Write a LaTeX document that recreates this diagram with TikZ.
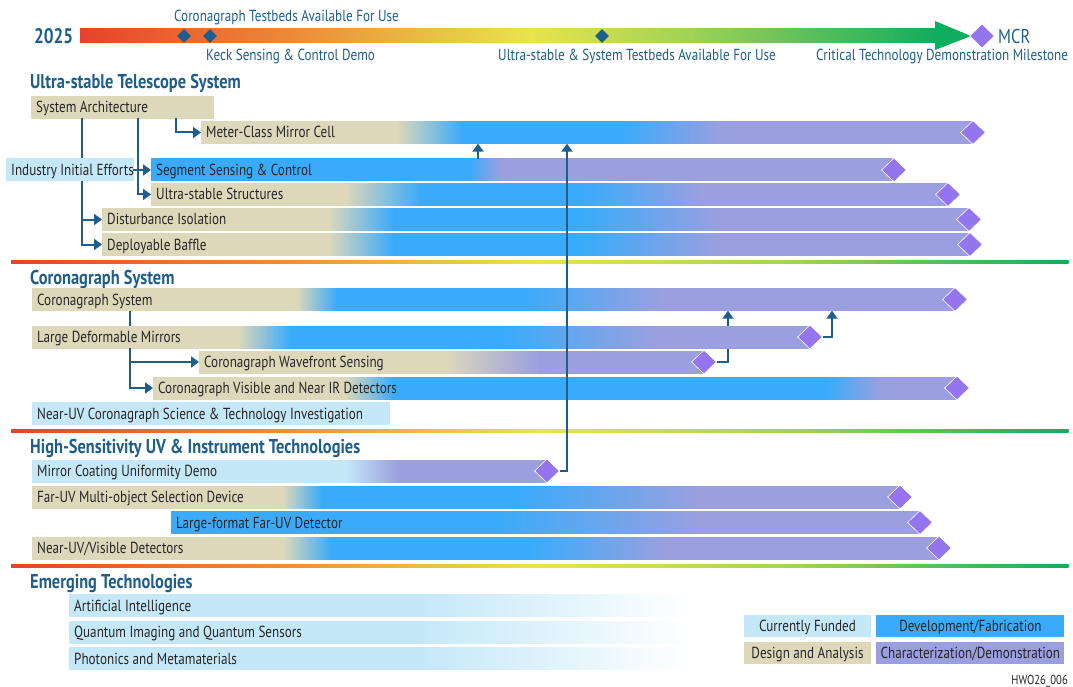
\documentclass[tikz,border=0pt]{standalone}
\usepackage{fontspec}
\setmainfont[FakeStretch=0.82]{PT Sans}
\usepackage{tikz}
\usetikzlibrary{arrows.meta,positioning,calc,shapes.geometric}
\usepackage{xcolor}

\definecolor{tanc}{RGB}{221,216,186}
\definecolor{devc}{RGB}{58,171,250}
\definecolor{chrc}{RGB}{155,159,224}
\definecolor{fundc}{RGB}{197,232,249}
\definecolor{mcrc}{RGB}{148,117,238}
\definecolor{navy}{RGB}{30,94,140}
\definecolor{inkc}{RGB}{38,38,38}
\definecolor{tlred}{RGB}{232,66,42}
\definecolor{tlorange}{RGB}{236,142,56}
\definecolor{tlyellow}{RGB}{232,228,76}
\definecolor{tllime}{RGB}{160,210,86}
\definecolor{tlgreen}{RGB}{18,172,94}

% shaded bar pieces with the label node on top
\newcommand{\techbar}[5]{%
  \foreach \xa/\xb/\ca/\cb in {#4}
    \shade[left color=\ca, right color=\cb] (\xa,#2-11) rectangle ({\xb+0.6},#2+11);
  \node[bartxt, anchor=west] (#1) at (#3,#2) {#5};
}

\begin{document}
\begin{tikzpicture}[x=1pt, y=-1pt,
  bartxt/.style={minimum height=22pt, inner xsep=5pt, inner ysep=0pt, text height=11pt, text depth=0pt, font=\fontsize{16}{16}\selectfont, text=inkc},
  hdr/.style={anchor=west, inner sep=0pt, text height=14pt, text depth=0pt, font=\bfseries\fontsize{20}{20}\selectfont, text=navy},
  mslbl/.style={anchor=west, inner sep=0pt, text height=11pt, text depth=0pt, font=\fontsize{16}{16}\selectfont, text=navy},
  mdiam/.style={diamond, fill=mcrc, draw=white, line width=0.6pt, minimum width=25pt, minimum height=24pt, inner sep=0pt},
  msdot/.style={diamond, fill=navy, minimum width=14pt, minimum height=14pt, inner sep=0pt},
  flow/.style={draw=navy, line width=2pt, -{Triangle[length=8pt,width=11pt]}},
  link/.style={draw=navy, line width=2pt},
  keybox/.style={minimum width=127pt, minimum height=22pt, inner sep=0pt, text height=11pt, text depth=0pt, font=\fontsize{16}{16}\selectfont, text=inkc},
]
\useasboundingbox (0,0) rectangle (1073,687);

% ─── Timeline ───
\foreach \xa/\xb/\ca/\cb in {80/300/tlred/tlorange, 300/530/tlorange/tlyellow, 530/690/tlyellow/tllime, 690/935/tllime/tlgreen} {
  \shade[left color=\ca, right color=\cb] (\xa,29) rectangle ({\xb+0.6},43);
}
\fill[tlgreen] (935,21) -- (971,36) -- (935,50) -- cycle;
\node[anchor=west, inner sep=0pt, text height=15pt, text depth=0pt, font=\bfseries\fontsize{21}{21}\selectfont, text=navy] (yr) at (34,36) {2025};
\node[msdot] (ms1) at (184,36) {};
\node[msdot] (ms2) at (210,36) {};
\node[msdot] (ms3) at (602,36) {};
\node[mdiam] (mcr-d) at (982,36) {};
\node[mslbl, text height=14pt, font=\fontsize{20}{20}\selectfont] (mcr) at (998,37) {MCR};
\node[mslbl] (cortb) at (174,16) {Coronagraph Testbeds Available For Use};
\node[mslbl] (keck) at (206,55) {Keck Sensing \& Control Demo};
\node[mslbl] (ustb) at (498,55) {Ultra-stable \& System Testbeds Available For Use};
\node[mslbl] (ctdm) at (816,55) {Critical Technology Demonstration Milestone};

% ─── Section rules ───
\foreach \yy in {262,431,566} {
  \foreach \xa/\xb/\ca/\cb in {11/280/tlred/tlorange, 280/540/tlorange/tlyellow, 540/800/tlyellow/tllime, 800/1068/tllime/tlgreen} {
    \shade[left color=\ca, right color=\cb] (\xa,\yy-1.5) rectangle ({\xb+0.6},\yy+1.5);
  }
}

% ─── Ultra-stable Telescope System ───
\node[hdr] (h-ust) at (30,82) {Ultra-stable Telescope System};
\techbar{sysarch}{107.5}{31}{31/213/tanc/tanc}{System Architecture}
\techbar{mcell}{132.5}{201}{201/397/tanc/tanc, 397/462/tanc/devc, 462/623/devc/devc, 623/723/devc/chrc, 723/973/chrc/chrc}{Meter-Class Mirror Cell}
\techbar{ssc}{170}{151}{151/469/devc/devc, 469/500/devc/chrc, 500/894/chrc/chrc}{Segment Sensing \& Control}
\techbar{usst}{194.5}{151}{151/345/tanc/tanc, 345/420/tanc/devc, 420/585/devc/devc, 585/702/devc/chrc, 702/948/chrc/chrc}{Ultra-stable Structures}
\techbar{dist}{219.5}{102}{102/328/tanc/tanc, 328/393/tanc/devc, 393/585/devc/devc, 585/720/devc/chrc, 720/969/chrc/chrc}{Disturbance Isolation}
\techbar{dbaf}{244.5}{102}{102/328/tanc/tanc, 328/393/tanc/devc, 393/585/devc/devc, 585/720/devc/chrc, 720/970/chrc/chrc}{Deployable Baffle}
\node[mdiam] (mcell-d) at (973,132.5) {};
\node[mdiam] (ssc-d) at (894,170) {};
\node[mdiam] (usst-d) at (948,194.5) {};
\node[mdiam] (dist-d) at (969,219.5) {};
\node[mdiam] (dbaf-d) at (970,244.5) {};

\coordinate (sa1) at (82,118);
\coordinate (sa2) at (138,118);
\coordinate (sa3) at (176,118);
\coordinate (up1) at (478,0);
\coordinate (up2) at (567,0);
\draw[flow] (sa1) |- (dist.west);
\draw[flow] (sa1) |- (dbaf.west);
\draw[flow] (sa2) |- (usst.west);
\draw[flow] (sa3) |- (mcell.west);
\techbar{iie}{170}{6}{6/133/fundc/fundc}{Industry Initial Efforts}
\draw[flow] (iie.east -| 133,0) -- (ssc.west);
\draw[flow] (ssc.north -| up1) -- (mcell.south -| up1);

% ─── Coronagraph System ───
\node[hdr] (h-cor) at (30,277) {Coronagraph System};
\techbar{cs}{299.5}{32}{32/297/tanc/tanc, 297/336/tanc/devc, 336/525/devc/devc, 525/661/devc/chrc, 661/955/chrc/chrc}{Coronagraph System}
\techbar{cws}{362}{199}{199/445/tanc/tanc, 445/538/tanc/chrc, 538/704/chrc/chrc}{Coronagraph Wavefront Sensing}
\techbar{cvd}{388}{153}{153/345/tanc/tanc, 345/393/tanc/devc, 393/827/devc/devc, 827/882/devc/chrc, 882/957/chrc/chrc}{Coronagraph Visible and Near IR Detectors}
\techbar{nuv}{413.5}{32}{32/389/fundc/fundc}{Near-UV Coronagraph Science \& Technology Investigation}
\node[mdiam] (cs-d) at (955,299.5) {};
\node[mdiam] (cws-d) at (704,362) {};
\node[mdiam] (cvd-d) at (957,388) {};
\coordinate (cl) at (130,0);
\coordinate (up3) at (728,0);
\coordinate (up4) at (832,0);
\draw[flow] (cws-d.east) -| (up3 |- cs.south);
\techbar{ldm}{337}{32}{32/238/tanc/tanc, 238/290/tanc/devc, 290/505/devc/devc, 505/655/devc/chrc, 655/810/chrc/chrc}{Large Deformable Mirrors}
\node[mdiam] (ldm-d) at (810,337) {};
\draw[link] (cs.south -| cl) -- (ldm.north -| cl);
\draw[flow] (ldm.south -| cl) |- (cws.west);
\draw[flow] (ldm.south -| cl) |- (cvd.west);
\draw[flow] (ldm-d.east) -| (up4 |- cs.south);

% ─── High-Sensitivity UV & Instrument Technologies ───
\node[hdr] (h-uv) at (30,446) {High-Sensitivity UV \& Instrument Technologies};
\techbar{mcu}{471}{32}{32/345/fundc/fundc, 345/397/fundc/chrc, 397/547/chrc/chrc}{Mirror Coating Uniformity Demo}
\techbar{fuv}{497}{32}{32/283/tanc/tanc, 283/321/tanc/devc, 321/520/devc/devc, 520/700/devc/chrc, 700/900/chrc/chrc}{Far-UV Multi-object Selection Device}
\techbar{lfd}{522.5}{171}{171/500/devc/devc, 500/700/devc/chrc, 700/920/chrc/chrc}{Large-format Far-UV Detector}
\techbar{nuvd}{548}{32}{32/283/tanc/tanc, 283/331/tanc/devc, 331/530/devc/devc, 530/668/devc/chrc, 668/939/chrc/chrc}{Near-UV/Visible Detectors}
\node[mdiam] (mcu-d) at (547,471) {};
\node[mdiam] (fuv-d) at (900,497) {};
\node[mdiam] (lfd-d) at (920,522.5) {};
\node[mdiam] (nuvd-d) at (939,548) {};
\draw[flow] (mcu-d.east) -| (up2 |- mcell.south);

% ─── Emerging Technologies ───
\node[hdr] (h-emt) at (30,581) {Emerging Technologies};
\techbar{ai}{605.5}{69}{69/420/fundc/fundc, 420/692/fundc/white}{Artificial Intelligence}
\techbar{qis}{632}{69}{69/420/fundc/fundc, 420/692/fundc/white}{Quantum Imaging and Quantum Sensors}
\techbar{pm}{658.5}{69}{69/420/fundc/fundc, 420/692/fundc/white}{Photonics and Metamaterials}

% Legend
\node[keybox, fill=fundc] (k-fund) at (807.5,625.5) {Currently Funded};
\node[keybox, fill=devc, minimum width=188pt, right=5pt of k-fund] (k-dev) {Development/Fabrication};
\node[keybox, fill=tanc, below=5pt of k-fund] (k-des) {Design and Analysis};
\node[keybox, fill=chrc, minimum width=188pt, right=5pt of k-des] (k-chr) {Characterization/Demonstration};
\node[anchor=east, inner sep=0pt, text height=9pt, text depth=0pt, font=\fontsize{13}{13}\selectfont, text=inkc] (docid) at (1068,680) {HWO26\_006};

\end{tikzpicture}
\end{document}
